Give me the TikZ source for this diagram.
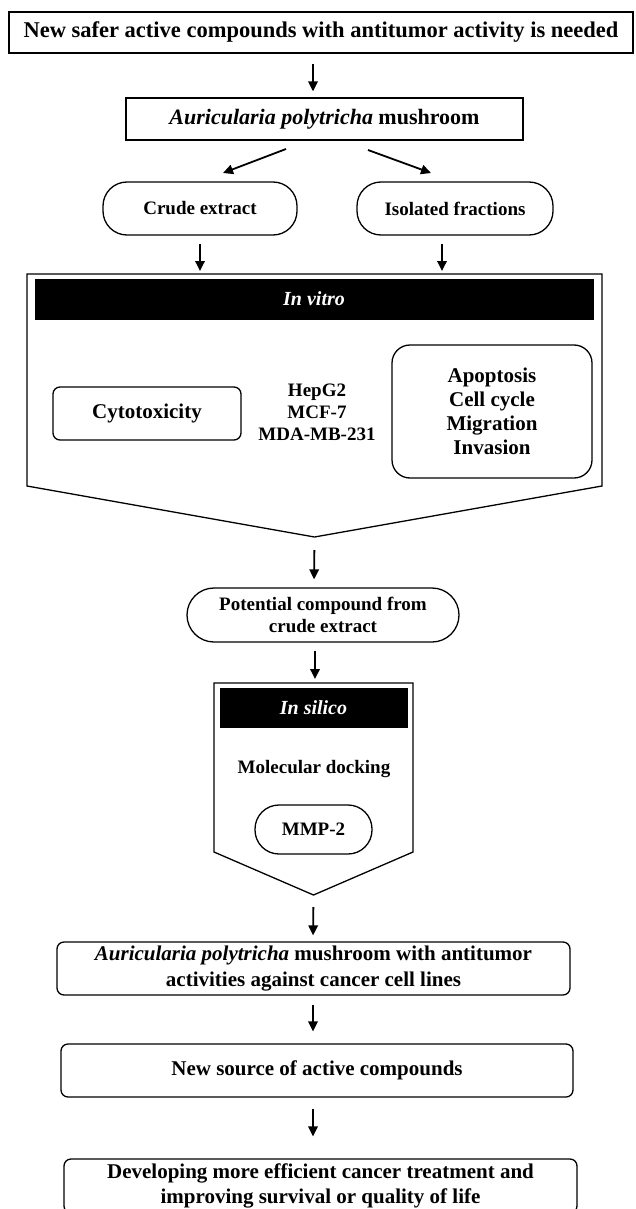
\documentclass[tikz,border=0pt]{standalone}
\usepackage{fontspec}
\setmainfont{Liberation Serif}
\usetikzlibrary{arrows.meta,calc}
\begin{document}
\begin{tikzpicture}[x=1pt,y=-1pt,
  lw/.style={line width=1.3pt},
  box/.style={draw, lw, align=center, inner sep=0pt, font=\bfseries\fontsize{21}{25}\selectfont},
  rbox/.style={box, rounded corners=7pt},
  pill/.style={box, rounded corners=24pt},
  arr/.style={line width=1.8pt, -{Triangle[length=10pt,width=9.5pt]}},
  bar/.style={fill=black, draw=black, text=white, inner sep=0pt, font=\bfseries\itshape\fontsize{20}{24}\selectfont},
  plain/.style={align=center, inner sep=0pt, font=\bfseries\fontsize{19}{22}\selectfont}]
\useasboundingbox (0,0) rectangle (635,1209);
\fill[white] (0,0) rectangle (635,1209);

% top
\node[box, minimum width=624pt, minimum height=41pt, font=\bfseries\fontsize{22.5}{26}\selectfont] (top) at (321,32.5) {New safer active compounds with antitumor activity is needed};
\node[box, minimum width=397pt, minimum height=42pt, font=\bfseries\fontsize{22}{26}\selectfont] (mush) at (324.5,119) {\textit{Auricularia polytricha} mushroom};
\node[pill, minimum width=194pt, minimum height=53pt, font=\bfseries\fontsize{19}{22}\selectfont] (crude) at (200,208.5) {Crude extract};
\node[pill, minimum width=196pt, minimum height=53pt, font=\bfseries\fontsize{19}{22}\selectfont] (iso) at (455,208.5) {Isolated fractions};

\coordinate (a1) at (313,0);
\draw[arr, shorten <=10pt, shorten >=6pt] (top.south -| a1) -- (mush.north -| a1);
\coordinate (dl1) at (286,149);
\coordinate (dl2) at (223,173);
\coordinate (dr1) at (368,150);
\coordinate (dr2) at (431,173);
\draw[arr] (dl1) -- (dl2);
\draw[arr] (dr1) -- (dr2);

% in vitro container
\coordinate (vtl) at (27,274);
\coordinate (vtr) at (602,274);
\coordinate (vbr) at (602,486);
\coordinate (vtip) at (314.5,537);
\coordinate (vbl) at (27,486);
\draw[lw] (vtl) -- (vtr) -- (vbr) -- (vtip) -- (vbl) -- cycle;
\node[bar, minimum width=558pt, minimum height=40pt] (vitro) at (314,299) {In vitro};
\coordinate (a2) at (442,0);
\draw[arr, shorten <=8pt, shorten >=3pt] (crude.south) -- (crude.south |- vtl);
\draw[arr, shorten <=8pt, shorten >=3pt] (iso.south -| a2) -- (vtl -| a2);

\node[rbox, minimum width=188pt, minimum height=53pt] (cyto) at (147,413.5) {Cytotoxicity};
\node[plain] (lines) at (317,412) {HepG2\\MCF-7\\MDA-MB-231};
\node[box, rounded corners=18pt, minimum width=200pt, minimum height=133pt, font=\bfseries\fontsize{21}{24}\selectfont] (apo) at (492,411.5) {Apoptosis\\Cell cycle\\Migration\\Invasion};

% potential
\node[pill, minimum width=272pt, minimum height=54pt, rounded corners=27pt, font=\bfseries\fontsize{19}{22}\selectfont] (pot) at (323,615) {Potential compound from\\crude extract};
\coordinate (a3) at (314,0);
\draw[arr, shorten <=13pt, shorten >=8pt] (vtip) -- (pot.north -| a3);

% in silico
\coordinate (stl) at (214,683);
\coordinate (str) at (413,683);
\coordinate (sbr) at (413,852);
\coordinate (stip) at (313.5,895);
\coordinate (sbl) at (214,852);
\draw[lw] (stl) -- (str) -- (sbr) -- (stip) -- (sbl) -- cycle;
\coordinate (a4) at (315,0);
\draw[arr, shorten <=8pt, shorten >=4pt] (pot.south -| a4) -- (stl -| a4);
\node[bar, minimum width=187pt, minimum height=39pt] (silico) at (313.5,707.5) {In silico};
\node[plain] (dock) at (314,769) {Molecular docking};
\node[pill, minimum width=117pt, minimum height=49pt, font=\bfseries\fontsize{19}{22}\selectfont] (mmp) at (313.5,829.5) {MMP-2};

% bottom chain
\node[rbox, minimum width=513pt, minimum height=53pt, font=\bfseries\fontsize{21}{26}\selectfont] (res) at (313.5,968.5) {\textit{Auricularia polytricha} mushroom with antitumor\\activities against cancer cell lines};
\coordinate (a5) at (313,0);
\draw[arr, shorten <=12pt, shorten >=6pt] (stip) -- (res.north -| a5);
\node[rbox, minimum width=512pt, minimum height=53pt] (src) at (317,1070.5) {New source of active compounds};
\draw[arr, shorten <=9pt, shorten >=12pt] (res.south -| a5) -- (src.north -| a5);
\node[rbox, minimum width=513pt, minimum height=54pt, font=\bfseries\fontsize{21}{25}\selectfont] (dev) at (320.5,1186) {Developing more efficient cancer treatment and\\improving survival or quality of life};
\draw[arr, shorten <=11pt, shorten >=22pt] (src.south -| a5) -- (dev.north -| a5);
\end{tikzpicture}
\end{document}
